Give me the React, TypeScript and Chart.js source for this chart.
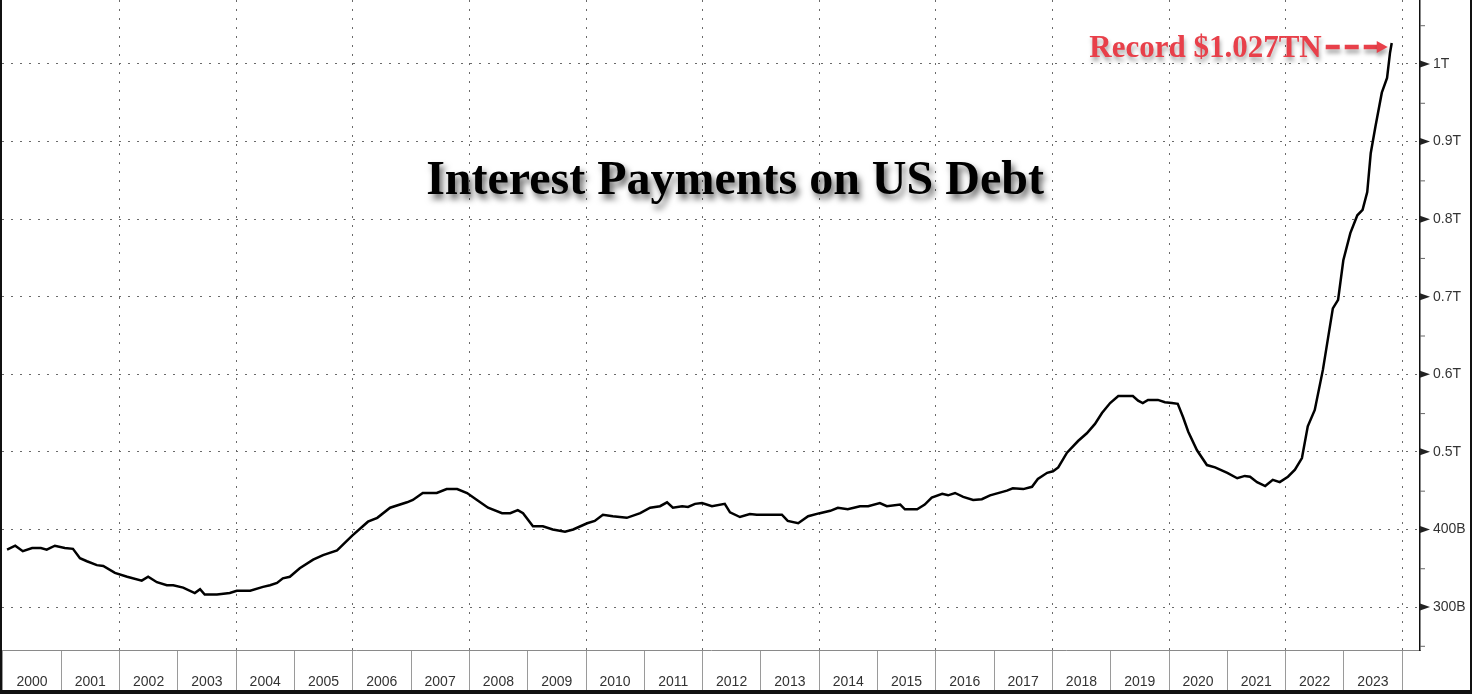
import React, { useEffect, useRef } from "react";
import { Chart, registerables } from "chart.js";

Chart.register(...registerables);

// Decimal year of each reading
const years: number[] = [
  2000.07, 2000.21, 2000.34, 2000.5, 2000.65, 2000.75, 2000.89,
  2001.06, 2001.2, 2001.32, 2001.44, 2001.61, 2001.72, 2001.92,
  2002.13, 2002.38, 2002.49, 2002.64, 2002.81, 2002.92,
  2003.09, 2003.29, 2003.38, 2003.46, 2003.67, 2003.89,
  2004.01, 2004.24, 2004.46, 2004.58, 2004.7, 2004.8, 2004.92,
  2005.09, 2005.32, 2005.49, 2005.73, 2005.99,
  2006.26, 2006.42, 2006.64, 2006.93,
  2007.03, 2007.2, 2007.44, 2007.61, 2007.79, 2007.96,
  2008.13, 2008.32, 2008.56, 2008.7, 2008.83, 2008.92,
  2009.09, 2009.26, 2009.43, 2009.64, 2009.78,
  2010.02, 2010.15, 2010.29, 2010.46, 2010.7, 2010.93,
  2011.1, 2011.27, 2011.39, 2011.49, 2011.65, 2011.75, 2011.87, 2011.99,
  2012.16, 2012.38, 2012.47, 2012.64, 2012.81, 2012.93,
  2013.36, 2013.46, 2013.64, 2013.81,
  2014.01, 2014.19, 2014.32, 2014.49, 2014.7, 2014.84,
  2015.04, 2015.16, 2015.39, 2015.47, 2015.68, 2015.81, 2015.93,
  2016.11, 2016.21, 2016.33, 2016.47, 2016.64, 2016.79, 2016.93,
  2017.22, 2017.32, 2017.5, 2017.65, 2017.75, 2017.91,
  2018.01, 2018.1, 2018.25, 2018.44, 2018.59, 2018.73, 2018.85, 2018.99,
  2019.13, 2019.38, 2019.47, 2019.55, 2019.64, 2019.81, 2019.93,
  2020.05, 2020.15, 2020.24, 2020.33, 2020.48, 2020.65, 2020.79,
  2021.0, 2021.17, 2021.3, 2021.39, 2021.51, 2021.65, 2021.78, 2021.9,
  2022.04, 2022.16, 2022.28, 2022.38, 2022.5, 2022.64, 2022.81, 2022.9, 2022.99,
  2023.11, 2023.23, 2023.32, 2023.4, 2023.46, 2023.54, 2023.65, 2023.74, 2023.79, 2023.82,
];

// Interest payments, billions of USD
const interestB: number[] = [
  374, 379, 372, 376, 376, 374, 379,
  376, 375, 363, 359, 354, 353, 344,
  339, 334, 339, 332, 328, 328,
  325, 318, 323, 316, 316, 318,
  321, 321, 326, 328, 331, 337, 339,
  350, 361, 367, 373, 392,
  410, 415, 428, 435,
  438, 447, 447, 452, 452, 447,
  438, 428, 421, 421, 425, 421,
  404, 404, 400, 397, 400,
  408, 411, 419, 417, 415, 421,
  428, 430, 435, 428, 430, 429, 433, 434,
  430, 433, 422, 416, 420, 419,
  419, 411, 408, 417,
  421, 424, 428, 426, 430, 430,
  434, 430, 432, 426, 426, 432, 441,
  446, 444, 447, 442, 438, 439, 444,
  450, 453, 452, 455, 465, 473,
  475, 480, 499, 514, 524, 536, 550, 563,
  572, 572, 566, 563, 567, 567, 564,
  563, 562, 545, 526, 502, 483, 480,
  473, 466, 469, 468, 461, 456, 464, 461,
  468, 477, 492, 533, 554, 606, 685, 696, 747,
  782, 805, 812, 835, 885, 919, 963, 982, 1014, 1027,
];

const yearTicks: number[] = [
  2000, 2001, 2002, 2003, 2004, 2005, 2006, 2007, 2008, 2009, 2010, 2011,
  2012, 2013, 2014, 2015, 2016, 2017, 2018, 2019, 2020, 2021, 2022, 2023, 2024,
];
const valueTicks: number[] = [
  250, 300, 350, 400, 450, 500, 550, 600, 650, 700, 750, 800, 850, 900, 950, 1000, 1050,
];

const titleText = "Interest Payments on US Debt";
const recordText = "Record $1.027TN";

const fmtValue = (v: number) => (v < 500 ? `${v}B` : `${+(v / 1000).toFixed(1)}T`);

const decorPlugin = {
  id: "decor",
  afterDraw(chart: any) {
    const { ctx, scales } = chart;
    const x = scales.x;
    const y = scales.y;
    ctx.save();
    // right-axis tick marks
    valueTicks.forEach((v) => {
      const py = y.getPixelForValue(v);
      const ax = y.left;
      if (v % 100 === 0) {
        ctx.fillStyle = "#222";
        ctx.beginPath();
        ctx.moveTo(ax, py - 3.5);
        ctx.lineTo(ax + 10, py);
        ctx.lineTo(ax, py + 3.5);
        ctx.closePath();
        ctx.fill();
      } else {
        ctx.strokeStyle = "#666";
        ctx.lineWidth = 1;
        ctx.beginPath();
        ctx.moveTo(ax, py + 0.5);
        ctx.lineTo(ax + 5, py + 0.5);
        ctx.stroke();
      }
    });

    // title with drop shadow
    ctx.save();
    ctx.font = 'bold 48px "Liberation Serif", serif';
    ctx.textAlign = "center";
    ctx.textBaseline = "alphabetic";
    ctx.shadowColor = "rgba(0,0,0,0.6)";
    ctx.shadowBlur = 6;
    ctx.shadowOffsetX = 3;
    ctx.shadowOffsetY = 5;
    ctx.fillStyle = "#000";
    ctx.fillText(titleText, 735, 194);
    ctx.restore();

    // record annotation, arrow pointing at the last reading
    const lastIdx = interestB.length - 1;
    const px = x.getPixelForValue(years[lastIdx]);
    const py = y.getPixelForValue(interestB[lastIdx]);
    const tipX = px - 4;
    const tipY = py + 4;
    const red = "#e8404a";
    ctx.save();
    ctx.shadowColor = "rgba(0,0,0,0.35)";
    ctx.shadowBlur = 4;
    ctx.shadowOffsetX = 1;
    ctx.shadowOffsetY = 4;
    ctx.strokeStyle = red;
    ctx.fillStyle = red;
    ctx.lineWidth = 4.5;
    ctx.setLineDash([14, 5]);
    ctx.beginPath();
    ctx.moveTo(tipX - 62, tipY);
    ctx.lineTo(tipX - 9, tipY);
    ctx.stroke();
    ctx.setLineDash([]);
    ctx.beginPath();
    ctx.moveTo(tipX, tipY);
    ctx.lineTo(tipX - 11, tipY - 6);
    ctx.lineTo(tipX - 11, tipY + 6);
    ctx.closePath();
    ctx.fill();
    ctx.font = 'bold 31px "Liberation Serif", serif';
    ctx.textAlign = "right";
    ctx.textBaseline = "alphabetic";
    ctx.fillText(recordText, tipX - 66, tipY + 10);
    ctx.restore();

    ctx.restore();
  },
};

export default function App() {
  const canvasRef = useRef<HTMLCanvasElement | null>(null);

  useEffect(() => {
    const canvas = canvasRef.current;
    if (!canvas) return;
    const chart = new Chart(canvas, {
      type: "line",
      data: {
        datasets: [
          {
            label: "Interest Payments on US Debt",
            data: years.map((t, i) => ({ x: t, y: interestB[i] })),
            borderColor: "#000",
            borderWidth: 2.5,
            pointRadius: 0,
            tension: 0,
            fill: false,
          },
        ],
      },
      options: {
        animation: false,
        responsive: false,
        maintainAspectRatio: false,
        devicePixelRatio: 1,
        layout: { padding: { left: 2, right: 3, top: 0, bottom: 4 } },
        plugins: {
          legend: { display: false },
          tooltip: { enabled: false },
          title: { display: false },
        },
        scales: {
          x: {
            type: "linear",
            min: 1999.983,
            max: 2024.305,
            afterBuildTicks: (s: any) => {
              s.ticks = yearTicks.map((v) => ({ value: v }));
            },
            afterFit: (s: any) => {
              s.height = 40;
              s.paddingLeft = 0;
              s.paddingRight = 0;
            },
            grid: {
              color: (c: any) =>
                c.tick && c.tick.value % 2 === 0 && c.tick.value > 2000 ? "#6a6a6a" : "rgba(0,0,0,0)",
              lineWidth: 1,
              drawTicks: true,
              tickLength: 40,
              tickColor: "#9a9a9a",
              tickWidth: 1,
            },
            border: { display: true, color: "#8a8a8a", width: 1, dash: [2, 7] },
            ticks: {
              autoSkip: false,
              maxRotation: 0,
              minRotation: 0,
              labelOffset: 29,
              padding: -16,
              color: "#333",
              font: { family: "Liberation Sans", size: 14 },
              callback: (v: any) => (Number(v) < 2024 ? String(v) : ""),
            },
          },
          y: {
            position: "right",
            min: 244.6,
            max: 1082.5,
            afterBuildTicks: (s: any) => {
              s.ticks = valueTicks.map((v) => ({ value: v }));
            },
            afterFit: (s: any) => {
              s.width = 49;
              s.paddingTop = 0;
              s.paddingBottom = 0;
            },
            grid: {
              color: (c: any) => (c.tick && c.tick.value % 100 === 0 ? "#6a6a6a" : "rgba(0,0,0,0)"),
              lineWidth: 1,
              drawTicks: true,
              tickLength: 10,
              tickColor: "rgba(0,0,0,0)",
            },
            border: { display: true, color: "#111", width: 1.5, dash: [2, 7] },
            ticks: {
              autoSkip: false,
              padding: 3,
              color: "#333",
              font: { family: "Liberation Sans", size: 14 },
              callback: (v: any) => (Number(v) % 100 === 0 ? fmtValue(Number(v)) : ""),
            },
          },
        },
      },
      plugins: [decorPlugin],
    } as any);
    return () => chart.destroy();
  }, []);

  return (
    <div
      style={{
        position: "fixed",
        left: 0,
        top: 0,
        width: 1472,
        height: 694,
        background: "#fff",
        overflow: "hidden",
      }}
    >
      <canvas ref={canvasRef} width={1472} height={694} style={{ display: "block", width: 1472, height: 694 }} />
      <div style={{ position: "absolute", left: 0, top: 0, width: 2, height: 694, background: "#111" }} />
      <div style={{ position: "absolute", left: 0, top: 690, width: 1472, height: 4, background: "#111" }} />
      <div style={{ position: "absolute", left: 1470, top: 0, width: 2, height: 694, background: "#111" }} />
    </div>
  );
}
